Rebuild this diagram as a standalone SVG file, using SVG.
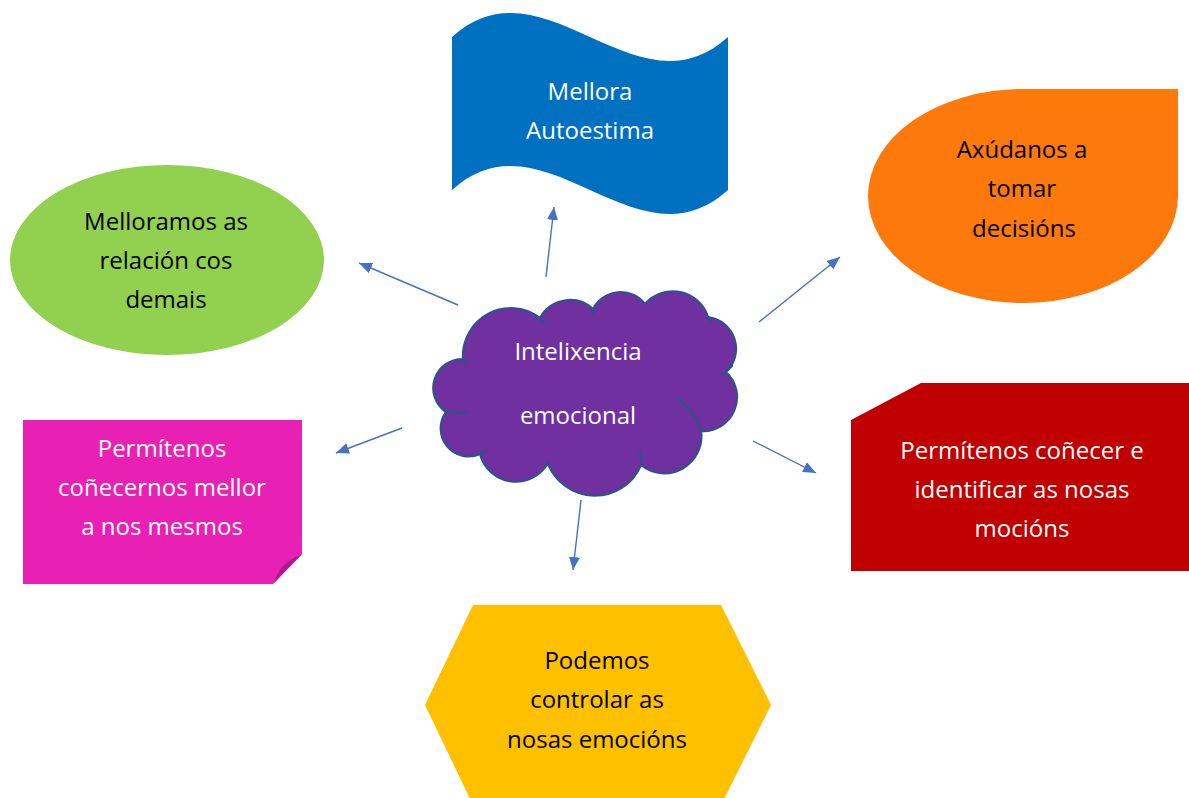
<svg xmlns="http://www.w3.org/2000/svg" width="1189" height="798" viewBox="0 0 1189 798">
  <defs>
    <marker id="arrowhead" markerUnits="userSpaceOnUse" markerWidth="14" markerHeight="12" refX="13" refY="5.5" orient="auto">
      <path d="M0,0 L13,5.5 L0,11 Z" fill="#4472C4"/>
    </marker>
  </defs>
  <style>
    .lbl { font-family: "Open Sans", "Liberation Sans", sans-serif; font-size: 24px; text-anchor: middle; }
    .light { fill: #FFFFFF; }
    .dark { fill: #000000; }
    .link { stroke: #4472C4; stroke-width: 1.4; fill: none; marker-end: url(#arrowhead); }
    .cloud-line { fill: none; stroke: #2F528F; stroke-width: 2.2; stroke-linecap: round; }
  </style>

  <rect width="1189" height="798" fill="#FFFFFF"/>

  <!-- connectors from the central cloud -->
  <g id="connectors">
    <line class="link" x1="546" y1="277" x2="554" y2="207"/>
    <line class="link" x1="458" y1="305" x2="359" y2="263"/>
    <line class="link" x1="759" y1="322" x2="840" y2="257"/>
    <line class="link" x1="402" y1="428" x2="336" y2="453"/>
    <line class="link" x1="753" y1="441" x2="816" y2="473"/>
    <line class="link" x1="581" y1="500" x2="573" y2="570"/>
  </g>

  <!-- wave banner -->
  <g id="node-autoestima">
    <path d="M452,37 C544,-46 636,120 728,37 L728,190 C636,273 544,107 452,190 Z" fill="#0070C0"/>
    <text class="lbl light" x="590" y="100">Mellora</text>
    <text class="lbl light" x="590" y="139">Autoestima</text>
  </g>

  <!-- teardrop -->
  <g id="node-decisions">
    <path d="M1178,89 L1023,89 A155,107 0 0 0 868,196 A155,107 0 0 0 1023,303 A155,107 0 0 0 1178,196 Z" fill="#FD790C"/>
    <text class="lbl dark" x="1022" y="158">Axúdanos a</text>
    <text class="lbl dark" x="1022" y="197">tomar</text>
    <text class="lbl dark" x="1024" y="237">decisións</text>
  </g>

  <!-- ellipse -->
  <g id="node-relacions">
    <ellipse cx="167" cy="260" rx="157" ry="95" fill="#92D050"/>
    <text class="lbl dark" x="166" y="230">Melloramos as</text>
    <text class="lbl dark" x="166" y="269">relación cos</text>
    <text class="lbl dark" x="166" y="308">demais</text>
  </g>

  <!-- note with folded corner -->
  <g id="node-mesmos">
    <path d="M23,420 L302,420 L302,554 L273,584 L23,584 Z" fill="#E920B4"/>
    <path d="M302,554 L274,583 Q279,563 302,554 Z" fill="#B5168C"/>
    <text class="lbl light" x="162" y="457">Permítenos</text>
    <text class="lbl light" x="162" y="496">coñecernos mellor</text>
    <text class="lbl light" x="162" y="535">a nos mesmos</text>
  </g>

  <!-- snipped rectangle -->
  <g id="node-emocions-id">
    <path d="M921,383 L1189,383 L1189,571 L851,571 L851,420 Z" fill="#C00000"/>
    <text class="lbl light" x="1022" y="459">Permítenos coñecer e</text>
    <text class="lbl light" x="1022" y="498">identificar as nosas</text>
    <text class="lbl light" x="1022" y="537">mocións</text>
  </g>

  <!-- hexagon -->
  <g id="node-control">
    <path d="M473,605 L721,605 L771,705 L721,805 L473,805 L425,705 Z" fill="#FFC000"/>
    <text class="lbl dark" x="597" y="669">Podemos</text>
    <text class="lbl dark" x="597" y="708">controlar as</text>
    <text class="lbl dark" x="597" y="748">nosas emocións</text>
  </g>

  <!-- central cloud -->
  <g id="node-intelixencia">
    <path d="M463,359 A48,48 0 0 1 540,318 A34,34 0 0 1 593,309 A31,31 0 0 1 645,304 A37,37 0 0 1 708,317 A32,32 0 0 1 726,372 A34,34 0 0 1 701,431 A37,37 0 0 1 641,465 A50,50 0 0 1 548,463 A37,37 0 0 1 480,454 A28,28 0 0 1 446,412 A29,29 0 0 1 463,359 Z" fill="#7030A0" stroke="#2F528F" stroke-width="2.2" stroke-linejoin="round"/>
    <path class="cloud-line" d="M536,316 Q540,318 544,322"/>
    <path class="cloud-line" d="M592,309 Q593,312 594,314"/>
    <path class="cloud-line" d="M708,317 Q710,319 711,322"/>
    <path class="cloud-line" d="M722,375 Q727,371 732,366"/>
    <path class="cloud-line" d="M678,399 Q694,410 701,430"/>
    <path class="cloud-line" d="M640,451 Q641,458 641,464"/>
    <path class="cloud-line" d="M547,463 Q550,468 553,473"/>
    <path class="cloud-line" d="M479,454 Q482,452 486,451"/>
    <path class="cloud-line" d="M447,411 Q457,413 467,413"/>
    <path class="cloud-line" d="M463,359 Q464,362 466,364"/>
    <text class="lbl light" x="578" y="360">Intelixencia</text>
    <text class="lbl light" x="578" y="424">emocional</text>
  </g>
</svg>
